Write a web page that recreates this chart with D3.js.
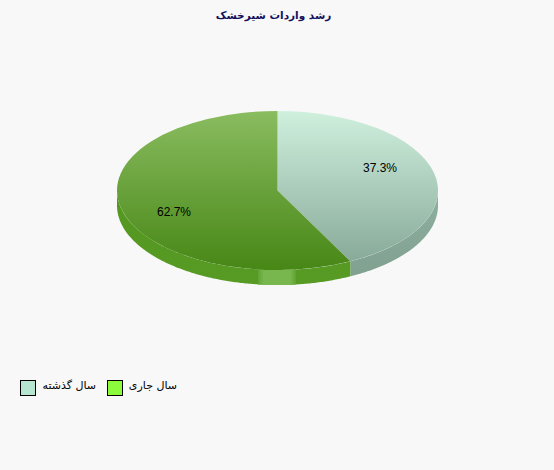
<!DOCTYPE html>
<html>
<head>
<meta charset="utf-8">
<script src="https://cdn.jsdelivr.net/npm/d3@7"></script>
<style>
html, body { margin: 0; padding: 0; background: #f8f8f8; }
svg { display: block; }
text { font-family: "DejaVu Sans", sans-serif; }
text.pct { font-family: "Liberation Sans", sans-serif; }
</style>
</head>
<body>
<div id="chart"></div>
<script>
// chart values
var titleText = 'رشد واردات شیرخشک';
var categories = ['سال گذشته', 'سال جاری'];
var shares = [37.3, 62.7];
var swatchColors = ['#b6e6cf', '#8cfb3c'];

var width = 554, height = 470;
var cx = 277.5, cy = 190.5, rx = 160.5, ry = 79.5, depth = 15;

var svg = d3.select('#chart').append('svg')
	.attr('width', width)
	.attr('height', height);

var defs = svg.append('defs');

function addGradient (id, x2, y2, stops) {
	var g = defs.append('linearGradient').attr('id', id)
		.attr('x1', 0).attr('y1', 0).attr('x2', x2).attr('y2', y2);
	stops.forEach(function (s) {
		g.append('stop').attr('offset', s[0]).attr('stop-color', s[1]);
	});
}
addGradient('topLight', 0, 1, [[0, '#d0f0de'], [1, '#88aa98']]);
addGradient('topGreen', 0, 1, [[0, '#8abc60'], [1, '#478716']]);
addGradient('sideLight', 0, 1, [[0, '#8fb0a0'], [1, '#80a090']]);
addGradient('sideGreen', 0, 1, [[0, '#539720'], [1, '#579b24']]);
addGradient('shine', 1, 0, [[0, '#5fa332'], [0.15, '#78b64e'], [0.85, '#78b64e'], [1, '#5fa332']]);

var pie = d3.pie().sort(null).value(function (d) { return d; });
var slices = pie(shares);

// the 3D tilt squeezes angles: the 37.3% edge lands further round the ellipse
var tilt = d3.scaleLinear()
	.domain([0, 2 * Math.PI * shares[0] / 100, 2 * Math.PI])
	.range([0, 153 * Math.PI / 180, 2 * Math.PI]);
slices.forEach(function (s) {
	s.startAngle = tilt(s.startAngle);
	s.endAngle = tilt(s.endAngle);
});

var xPos = function (a) { return cx + rx * Math.sin(a); };
var yPos = function (a) { return cy - ry * Math.cos(a); };

// outer wall between two angles, only the part facing the viewer
function wall (a0, a1) {
	var from = Math.max(a0, Math.PI / 2), to = Math.min(a1, 3 * Math.PI / 2);
	if (to <= from) return null;
	var angles = d3.range(from, to, 0.01).concat([to]);
	var line = d3.line().x(function (d) { return d[0]; }).y(function (d) { return d[1]; });
	var pts = angles.map(function (a) { return [xPos(a), yPos(a)]; })
		.concat(angles.slice().reverse().map(function (a) { return [xPos(a), yPos(a) + depth]; }));
	return line(pts) + 'Z';
}

var sideFills = ['url(#sideLight)', 'url(#sideGreen)'];
var topFills = ['url(#topLight)', 'url(#topGreen)'];

var g = svg.append('g');

g.selectAll('path.side')
	.data(slices)
	.enter()
	.append('path')
	.attr('class', 'side')
	.attr('d', function (d) { return wall(d.startAngle, d.endAngle); })
	.attr('fill', function (d, i) { return sideFills[i]; });

// highlight on the front of the wall
g.append('path')
	.attr('d', wall(Math.PI - 0.115, Math.PI + 0.122))
	.attr('fill', 'url(#shine)');

var arc = d3.arc().innerRadius(0).outerRadius(1);

g.append('g')
	.attr('transform', 'translate(' + cx + ',' + cy + ') scale(' + rx + ',' + ry + ')')
	.selectAll('path.top')
	.data(slices)
	.enter()
	.append('path')
	.attr('class', 'top')
	.attr('d', arc)
	.attr('fill', function (d, i) { return topFills[i]; });

// percent labels
var labelSpots = [[380, 172], [174, 216]];
svg.selectAll('text.pct')
	.data(shares)
	.enter()
	.append('text')
	.attr('class', 'pct')
	.attr('x', function (d, i) { return labelSpots[i][0]; })
	.attr('y', function (d, i) { return labelSpots[i][1]; })
	.attr('text-anchor', 'middle')
	.style('font-size', '12px')
	.attr('fill', '#000')
	.text(function (d) { return d3.format('.1f')(d) + '%'; });

svg.append('text')
	.attr('x', 273.5)
	.attr('y', 19)
	.attr('text-anchor', 'middle')
	.style('font-size', '10.5px')
	.style('font-weight', 'bold')
	.attr('fill', '#14105c')
	.text(titleText);

// legend
var legendSwatchX = [20.5, 107.5];
var legendTextX = [96, 177];
var legend = svg.selectAll('g.legend')
	.data(categories)
	.enter()
	.append('g')
	.attr('class', 'legend');
legend.append('rect')
	.attr('x', function (d, i) { return legendSwatchX[i]; })
	.attr('y', 380.5)
	.attr('width', 15)
	.attr('height', 15)
	.attr('fill', function (d, i) { return swatchColors[i]; })
	.attr('stroke', '#000');
legend.append('text')
	.attr('x', function (d, i) { return legendTextX[i]; })
	.attr('y', 389)
	.attr('text-anchor', 'end')
	.style('font-size', '11px')
	.attr('fill', '#000')
	.text(function (d) { return d; });
</script>
</body>
</html>
